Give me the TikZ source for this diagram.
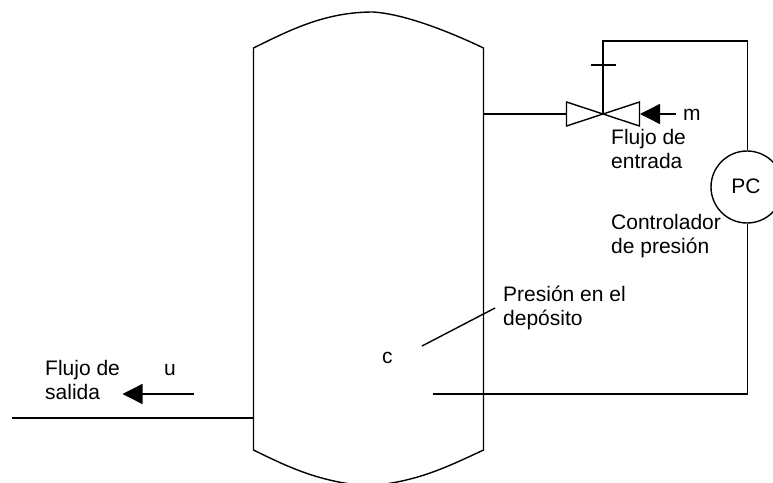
\documentclass[tikz,border=0pt]{standalone}
\usepackage{fontspec}
\usetikzlibrary{arrows.meta}
\setmainfont{Liberation Sans}
\begin{document}
\begin{tikzpicture}[
  x=1pt, y=-1pt,
  tankline/.style = {line width=1.4pt, line join=miter},
  flowarrow/.style = {-{Triangle[length=20pt,width=20pt]}, line width=1.4pt},
  tanklbl/.style = {font=\fontsize{21}{24}\selectfont, align=left, anchor=base west, inner sep=0pt}
]
  \useasboundingbox (0,0) rectangle (773,482);
  \begin{scope}
    \clip (0,0) rectangle (773,482);
    % deposito
    \draw[tankline] (253.5,48) -- (253.5,450)
      .. controls (290,468) and (320,482) .. (368,486)
      .. controls (416,482) and (445,468) .. (483.5,450) -- (483.5,48)
      .. controls (450,32) and (405,14) .. (373,12)
      .. controls (325,12) and (290,30) .. cycle;
    % controlador
    \node[draw, circle, line width=1.4pt, minimum size=72pt, inner sep=0pt] (pc) at (747,187) {};
  \end{scope}
  \node[font=\fontsize{21}{24}\selectfont, inner sep=0pt] (pclbl) at (746,186) {PC};
  % valvula
  \coordinate (valvec) at (603,114);
  \draw[tankline] (valvec) -- (566.5,102) -- (566.5,126) -- cycle;
  \draw[tankline] (valvec) -- (639.5,102) -- (639.5,126) -- cycle;
  \coordinate (tanktop) at (483.5,114);
  \draw[tankline] (tanktop) -- (566.5,114);
  \coordinate (sensor) at (433,394);
  \draw[tankline] (valvec) -- (603,41) -- (747.5,41) -- (pc.north -| 747.5,0);
  \draw[tankline] (pc.south -| 747.5,0) -- (747.5,394) -- (sensor);
  \coordinate (tickl) at (590.5,65);
  \coordinate (tickr) at (616,65);
  \draw[tankline] (tickl) -- (tickr);
  % flechas
  \coordinate (marrowa) at (676,114);
  \coordinate (marrowb) at (640,114);
  \draw[flowarrow] (marrowa) -- (marrowb);
  \coordinate (uarrowa) at (194,394);
  \coordinate (uarrowb) at (122.5,394);
  \draw[flowarrow] (uarrowa) -- (uarrowb);
  % salida
  \coordinate (outa) at (12,418);
  \coordinate (outb) at (253.5,418);
  \draw[tankline] (outa) -- (outb);
  % presion
  \coordinate (pa) at (422,346);
  \coordinate (pb) at (495,308);
  \draw[tankline] (pa) -- (pb);
  % textos
  \node[tanklbl] (m) at (683,120) {m};
  \node[tanklbl] (fe) at (611,168) {Flujo de\\entrada};
  \node[tanklbl] (cp) at (611,253) {Controlador\\de presión};
  \node[tanklbl] (pd) at (503,325) {Presión en el\\depósito};
  \node[tanklbl] (c) at (382,363) {c};
  \node[tanklbl] (u) at (164,375) {u};
  \node[tanklbl] (fs) at (45,399) {Flujo de\\salida};
\end{tikzpicture}
\end{document}
